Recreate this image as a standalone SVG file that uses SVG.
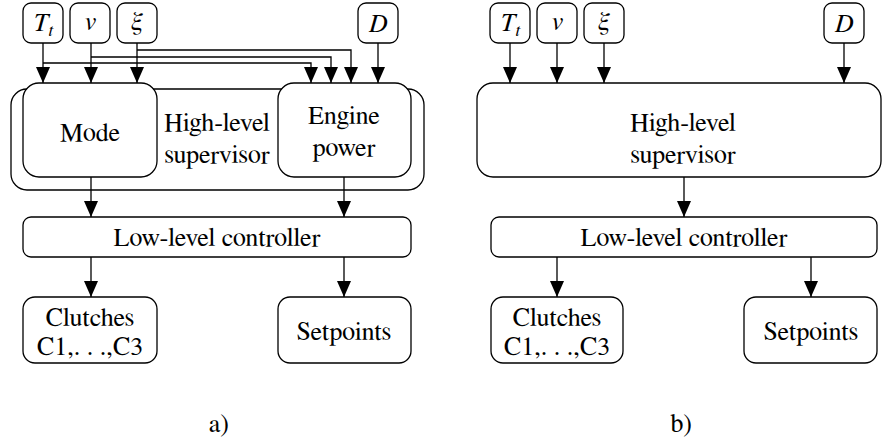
<svg xmlns="http://www.w3.org/2000/svg" width="882" height="443" viewBox="0 0 882 443">
<style>
  .box { fill: #fff; stroke: #000; stroke-width: 1.3; }
  .ln { fill: none; stroke: #000; stroke-width: 1.3; }
  text { font-family: FreeSerif, Tinos, 'Nimbus Roman', 'DejaVu Serif', 'Liberation Serif', serif; font-size: 26px; fill: #000; text-anchor: middle; }
  .m { font-style: italic; }
  .sub { font-size: 18px; }
</style>
<defs>
  <marker id="ah" markerUnits="userSpaceOnUse" markerWidth="16" markerHeight="14" refX="16" refY="7" orient="auto">
    <path d="M0,0 L16,7 L0,14 z" fill="#000"/>
  </marker>
</defs>
<rect width="882" height="443" fill="#fff"/>

<!-- ===== Diagram a) ===== -->
<g id="a-supervisor">
  <rect class="box" x="11" y="89" width="413" height="101" rx="16"/>
  <text x="217" y="131">High-level</text>
  <text x="217" y="163">supervisor</text>
</g>
<g id="a-mode">
  <rect class="box" x="23" y="83" width="134" height="94" rx="16"/>
  <text x="90" y="141">Mode</text>
</g>
<g id="a-engine">
  <rect class="box" x="278" y="83" width="133" height="94" rx="16"/>
  <text x="344" y="124">Engine</text>
  <text x="344" y="156">power</text>
</g>
<g id="a-Tt">
  <rect class="box" x="23" y="3" width="40" height="40" rx="8"/>
  <text x="43" y="31"><tspan class="m">T</tspan><tspan class="m sub" dy="5">t</tspan></text>
</g>
<g id="a-v">
  <rect class="box" x="70" y="3" width="40" height="40" rx="8"/>
  <text class="m" x="90" y="30">v</text>
</g>
<g id="a-xi">
  <rect class="box" x="117" y="3" width="40" height="40" rx="8"/>
  <text class="m" x="137" y="30">ξ</text>
</g>
<g id="a-D">
  <rect class="box" x="358" y="3" width="40" height="40" rx="8"/>
  <text class="m" x="378" y="32">D</text>
</g>
<g id="a-low">
  <rect class="box" x="23" y="217" width="388" height="40" rx="8"/>
  <text x="217" y="246">Low-level controller</text>
</g>
<g id="a-clutches">
  <rect class="box" x="23" y="297" width="134" height="66" rx="12"/>
  <text x="90" y="326">Clutches</text>
  <text x="90" y="355">C1,. . .,C3</text>
</g>
<g id="a-setpoints">
  <rect class="box" x="278" y="297" width="133" height="66" rx="12"/>
  <text x="344" y="340">Setpoints</text>
</g>
<text x="219" y="432">a)</text>

<g id="a-connectors">
  <path class="ln" d="M43,43 V83" marker-end="url(#ah)"/>
  <path class="ln" d="M91,43 V83" marker-end="url(#ah)"/>
  <path class="ln" d="M137,43 V83" marker-end="url(#ah)"/>
  <path class="ln" d="M378,43 V83" marker-end="url(#ah)"/>
  <path class="ln" d="M43,63 H311 V83" marker-end="url(#ah)"/>
  <path class="ln" d="M91,57 H331 V83" marker-end="url(#ah)"/>
  <path class="ln" d="M137,50 H351 V83" marker-end="url(#ah)"/>
  <path class="ln" d="M91,177 V217" marker-end="url(#ah)"/>
  <path class="ln" d="M344,177 V217" marker-end="url(#ah)"/>
  <path class="ln" d="M91,257 V297" marker-end="url(#ah)"/>
  <path class="ln" d="M344,257 V297" marker-end="url(#ah)"/>
</g>

<!-- ===== Diagram b) ===== -->
<g id="b-supervisor">
  <rect class="box" x="477" y="83" width="404" height="94" rx="16"/>
  <text x="683" y="131">High-level</text>
  <text x="683" y="163">supervisor</text>
</g>
<g id="b-Tt">
  <rect class="box" x="490" y="3" width="40" height="40" rx="8"/>
  <text x="510" y="31"><tspan class="m">T</tspan><tspan class="m sub" dy="5">t</tspan></text>
</g>
<g id="b-v">
  <rect class="box" x="537" y="3" width="40" height="40" rx="8"/>
  <text class="m" x="557" y="30">v</text>
</g>
<g id="b-xi">
  <rect class="box" x="584" y="3" width="40" height="40" rx="8"/>
  <text class="m" x="604" y="30">ξ</text>
</g>
<g id="b-D">
  <rect class="box" x="824" y="3" width="40" height="40" rx="8"/>
  <text class="m" x="844" y="32">D</text>
</g>
<g id="b-low">
  <rect class="box" x="491" y="217" width="386" height="40" rx="8"/>
  <text x="684" y="246">Low-level controller</text>
</g>
<g id="b-clutches">
  <rect class="box" x="491" y="297" width="132" height="66" rx="12"/>
  <text x="557" y="326">Clutches</text>
  <text x="557" y="355">C1,. . .,C3</text>
</g>
<g id="b-setpoints">
  <rect class="box" x="744" y="297" width="133" height="66" rx="12"/>
  <text x="811" y="340">Setpoints</text>
</g>
<text x="681" y="432">b)</text>

<g id="b-connectors">
  <path class="ln" d="M510,43 V83" marker-end="url(#ah)"/>
  <path class="ln" d="M557,43 V83" marker-end="url(#ah)"/>
  <path class="ln" d="M604,43 V83" marker-end="url(#ah)"/>
  <path class="ln" d="M844,43 V83" marker-end="url(#ah)"/>
  <path class="ln" d="M684,177 V217" marker-end="url(#ah)"/>
  <path class="ln" d="M557,257 V297" marker-end="url(#ah)"/>
  <path class="ln" d="M811,257 V297" marker-end="url(#ah)"/>
</g>
</svg>
